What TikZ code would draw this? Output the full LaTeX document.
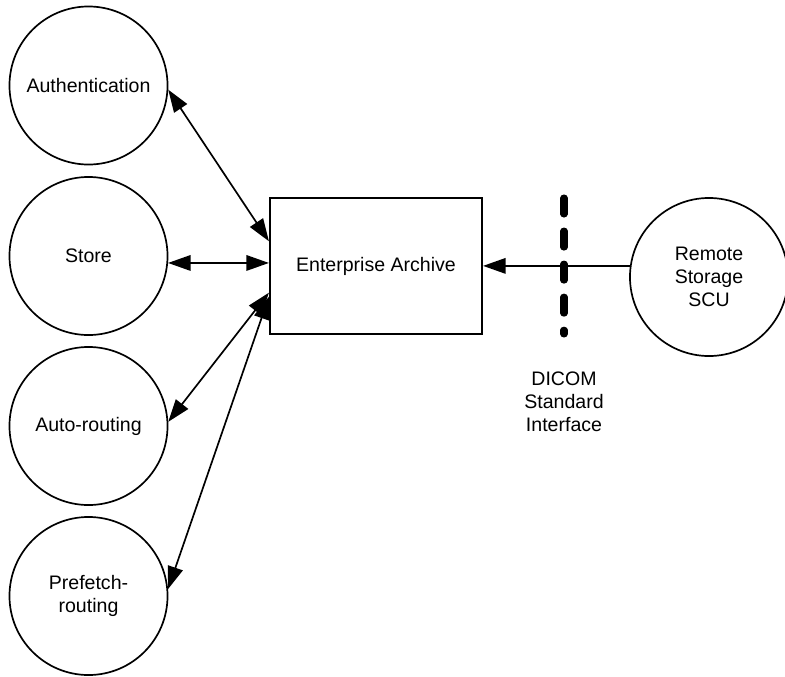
\documentclass[tikz,border=0pt]{standalone}
\usepackage{fontspec}
\setmainfont{Liberation Sans}
\usetikzlibrary{arrows.meta}
\tikzset{
  module/.style={draw, circle, line width=1.2pt, minimum size=3.95cm, inner sep=0pt, align=center},
  archive/.style={draw, rectangle, line width=1.5pt, minimum width=5.3cm, minimum height=3.4cm},
  link/.style={line width=1.2pt, {Triangle[length=16pt,width=11pt]}-{Triangle[length=16pt,width=11pt]}},
  inlink/.style={line width=1.2pt, -{Triangle[length=16pt,width=11pt]}},
  dicomline/.style={line width=5pt, line cap=round, dash pattern=on 11.4pt off 12.1pt}
}
\begin{document}
\begin{tikzpicture}[x=0.025cm, y=-0.025cm, font=\fontsize{13.9}{16.5}\selectfont]
        \useasboundingbox (0,0) rectangle (785,677);
        \node[module] (auth) at (88.5,85.5) {Authentication};
        \node[module] (store) at (88.5,256) {Store};
        \node[module] (auto) at (88.5,426) {Auto-routing};
        \node[module] (prefetch) at (88.5,596) {Prefetch-\\routing};
        \node[archive] (box) at (376,266) {Enterprise Archive};
        \node[module] (remote) at (709,277) {Remote\\Storage\\SCU};
        \draw[link] (auth.-3) -- (box.167);
        \draw[link] (store.-5.8) -- (store.-5.8 -| box.west);
        \draw[link] (auto.3.6) -- (box.194.3);
        \draw[link] (prefetch.5.7) -- (box.196.8);
        \draw[inlink] (remote.172.5) -- (remote.172.5 -| box.east);
        \draw[dicomline] (564,198) -- (564,334);
        \node[align=center] (dicom) at (564,402) {DICOM\\Standard\\Interface};
\end{tikzpicture}
\end{document}
